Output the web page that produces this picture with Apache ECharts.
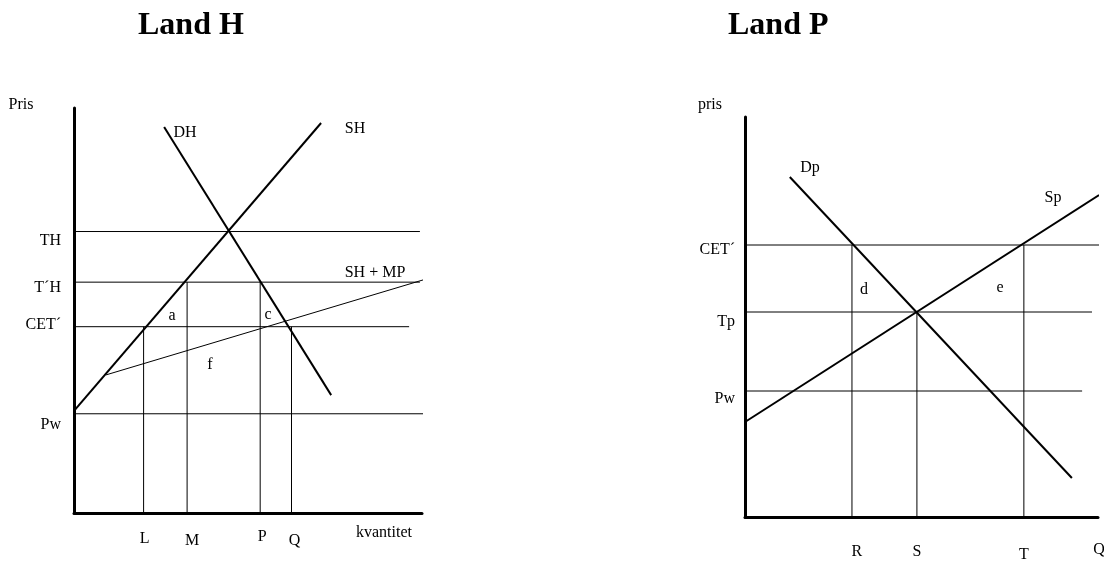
<!DOCTYPE html>
<html>
<head>
<meta charset="utf-8">
<script src="https://cdn.jsdelivr.net/npm/echarts@6/dist/echarts.min.js"></script>
<style>html,body{margin:0;padding:0;background:#fff}#c{width:1104px;height:561px}</style>
</head>
<body>
<div id="c"></div>
<script>
// ---------- Land H ----------
const hPriceNames = ['Pw', 'CET\u00B4', 'T\u00B4H', 'TH'];
const hPriceValues = [2.45, 4.6, 5.7, 6.95];
const hPriceLineEnds = [10.03, 9.63, 9.94, 9.94];
const hQtyNames = ['L', 'M', 'P', 'Q'];
const hQtyValues = [2.0, 3.25, 5.35, 6.25];
const hQtyLineTops = [4.6, 5.7, 5.7, 4.6];
const hSupply = [[0, 2.52], [7.1, 9.63]];          // SH
const hDemand = [[2.59, 9.53], [7.39, 2.91]];       // DH
const hSupplyMP = [[0.92, 3.41], [10.4, 5.85]];     // SH + MP

// ---------- Land P ----------
const pPriceNames = ['Pw', 'Tp', 'CET\u00B4'];
const pPriceValues = [3.15, 5.125, 6.8];
const pPriceLineEnds = [9.55, 9.83, 10.1];
const pQtyNames = ['R', 'S', 'T', 'Q'];
const pQtyValues = [3.03, 4.87, 7.9, 10];
const pQtyLineTops = [6.8, 5.125, 6.8];
const pDemand = [[1.27, 8.5], [9.26, 0.975]];       // Dp
const pSupply = [[0, 2.375], [10.03, 8.05]];        // Sp

const SERIF = 'Liberation Serif';
const FS = 16;
const chart = echarts.init(document.getElementById('c'));

function seg(gi, data, w) {
  return {
    type: 'line', xAxisIndex: gi, yAxisIndex: gi, data: data,
    showSymbol: false, symbol: 'none', clip: false, silent: true, animation: false,
    lineStyle: { color: '#000', width: w }
  };
}

const series = [];
hPriceValues.forEach((v, i) => series.push(seg(0, [[0, v], [hPriceLineEnds[i], v]], 1)));
hQtyValues.forEach((v, i) => series.push(seg(0, [[v, 0], [v, hQtyLineTops[i]]], 1)));
series.push(seg(0, hSupplyMP, 1));
series.push(seg(0, hSupply, 2));
series.push(seg(0, hDemand, 2));
pPriceValues.forEach((v, i) => series.push(seg(1, [[0, v], [pPriceLineEnds[i], v]], 1)));
pQtyLineTops.forEach((t, i) => series.push(seg(1, [[pQtyValues[i], 0], [pQtyValues[i], t]], 1)));
series.push(seg(1, pDemand, 2));
series.push(seg(1, pSupply, 2));

// per-label shifts in px (labels are centred, so padding of 2*d moves them by d)
const hPriceShift = [11, -2, 6, 9];
const pPriceShift = [8, 10, 5];
const hQtyShift = [[0, 1], [2, 5], [-2, 2], [2, 3]];
const pQtyShift = [[0, 5], [0, 0], [3, 0], [-2, 1]];

function pad(dy, dx) {
  return [dy >= 0 ? 2 * dy : 0, dx < 0 ? -2 * dx : 0, dy < 0 ? -2 * dy : 0, dx > 0 ? 2 * dx : 0];
}
function richY(names, shifts) {
  const rich = {};
  names.forEach((n, i) => {
    rich['k' + i] = { fontFamily: SERIF, fontSize: FS, color: '#000', padding: pad(shifts[i], 0) };
  });
  return rich;
}
function richX(names, shifts) {
  const rich = {};
  names.forEach((n, i) => {
    rich['k' + i] = { fontFamily: SERIF, fontSize: FS, color: '#000', padding: pad(shifts[i][0], shifts[i][1]) };
  });
  return rich;
}
function makeFormatter(names, values) {
  return function (v) {
    const i = values.findIndex(x => Math.abs(x - v) < 1e-6);
    return i < 0 ? '' : '{k' + i + '|' + names[i] + '}';
  };
}
function yLabel(names, values, shifts, margin) {
  return { show: true, customValues: values, margin: margin,
    formatter: makeFormatter(names, values), rich: richY(names, shifts) };
}
function xLabel(names, values, shifts, margin) {
  return { show: true, customValues: values, margin: margin, verticalAlign: 'middle', align: 'center',
    formatter: makeFormatter(names, values), rich: richX(names, shifts) };
}

const axisLine = { show: true, onZero: false, lineStyle: { color: '#000', width: 3 } };

function txt(text, x, y) {
  return {
    type: 'text', silent: true,
    style: { text: text, x: x, y: y, fill: '#000', font: FS + 'px "' + SERIF + '"', align: 'center', verticalAlign: 'middle' }
  };
}

const titleStyle = { fontFamily: SERIF, fontSize: 32, fontWeight: 'bold', color: '#000' };

const option = {
  animation: false,
  backgroundColor: '#fff',
  title: [
    { text: 'Land H', left: 138, top: 10, padding: 0, textStyle: titleStyle },
    { text: 'Land P', left: 728, top: 10, padding: 0, textStyle: titleStyle }
  ],
  grid: [
    { left: 74, top: 108, width: 348, height: 405, containLabel: false, outerBoundsMode: 'none' },
    { left: 745, top: 117, width: 353, height: 400, containLabel: false, outerBoundsMode: 'none' }
  ],
  xAxis: [
    { type: 'value', gridIndex: 0, min: 0, max: 10, axisLine: axisLine, axisTick: { show: false }, splitLine: { show: false },
      axisLabel: xLabel(hQtyNames, hQtyValues, hQtyShift, 26) },
    { type: 'value', gridIndex: 1, min: 0, max: 10, axisLine: axisLine, axisTick: { show: false }, splitLine: { show: false },
      axisLabel: xLabel(pQtyNames, pQtyValues, pQtyShift, 35) }
  ],
  yAxis: [
    { type: 'value', gridIndex: 0, min: 0, max: 10, axisLine: axisLine, axisTick: { show: false }, splitLine: { show: false },
      axisLabel: yLabel(hPriceNames, hPriceValues, hPriceShift, 13) },
    { type: 'value', gridIndex: 1, min: 0, max: 10, axisLine: axisLine, axisTick: { show: false }, splitLine: { show: false },
      axisLabel: yLabel(pPriceNames, pPriceValues, pPriceShift, 10) }
  ],
  graphic: [
    txt('Pris', 21, 105),
    txt('DH', 185, 133),
    txt('SH', 355, 129),
    txt('SH + MP', 375, 273),
    txt('a', 172, 316),
    txt('c', 268, 315),
    txt('f', 210, 365),
    txt('kvantitet', 384, 533),
    txt('pris', 710, 105),
    txt('Dp', 810, 168),
    txt('Sp', 1053, 198),
    txt('d', 864, 290),
    txt('e', 1000, 288)
  ],
  series: series
};
chart.setOption(option);
</script>
</body>
</html>
